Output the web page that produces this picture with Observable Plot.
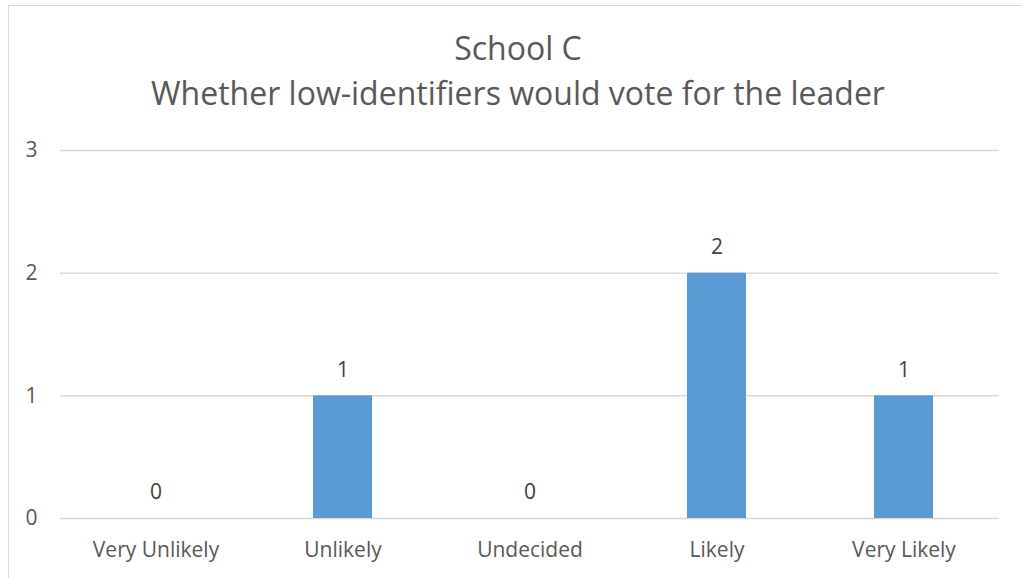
<!DOCTYPE html>
<html>
<head>
<meta charset="utf-8">
<script src="https://cdn.jsdelivr.net/npm/d3@7"></script>
<script src="https://cdn.jsdelivr.net/npm/@observablehq/plot@0.6"></script>
<style>
  html, body { margin: 0; padding: 0; background: #fff; }
  #wrap { position: relative; width: 1021px; height: 578px; overflow: hidden; font-family: "Open Sans", sans-serif; }
  #frame { position: absolute; left: 8px; top: 5px; width: 1040px; height: 600px; border: 1px solid #d9d9d9; box-sizing: border-box; }
  #title { position: absolute; left: 8px; top: 26px; width: 1020px; text-align: center; color: #595959; font-size: 32px; line-height: 44.5px; white-space: nowrap; }
  #chart { position: absolute; left: 0; top: 120px; }
</style>
</head>
<body>
<div id="wrap">
  <div id="frame"></div>
  <div id="title">School C<br>Whether low-identifiers would vote for the leader</div>
  <div id="chart"></div>
</div>
<script>
const categories = ["Very Unlikely", "Unlikely", "Undecided", "Likely", "Very Likely"];
const counts = [0, 1, 0, 2, 1];
const yTicks = [0, 1, 2, 3];

const rows = categories.map((c, i) => ({category: c, count: counts[i]}));

const chart = Plot.plot({
  width: 1021,
  height: 458,
  marginTop: 30,
  marginBottom: 60,
  marginLeft: 60,
  marginRight: 22,
  style: {fontFamily: "'Open Sans', sans-serif", fontSize: "21px", color: "#595959", background: "transparent"},
  x: {domain: categories, paddingInner: 0.686, paddingOuter: 0.343, label: null},
  y: {domain: [0, 3], label: null},
  marks: [
    Plot.gridY(yTicks, {stroke: "#d9d9d9", strokeOpacity: 1, strokeWidth: 1.5}),
    Plot.barY(rows, {x: "category", y: "count", fill: "#5b9bd5"}),
    Plot.text(rows, {x: "category", y: "count", text: d => String(d.count), dy: -26, fill: "#404040", fontSize: 21}),
    Plot.axisY(yTicks, {tickSize: 0, tickPadding: 23, tickFormat: d => String(d), fill: "#595959", fontSize: 21, label: null}),
    Plot.axisX({tickSize: 0, tickPadding: 24, fill: "#595959", fontSize: 21, label: null})
  ]
});
document.getElementById("chart").appendChild(chart);
</script>
</body>
</html>
